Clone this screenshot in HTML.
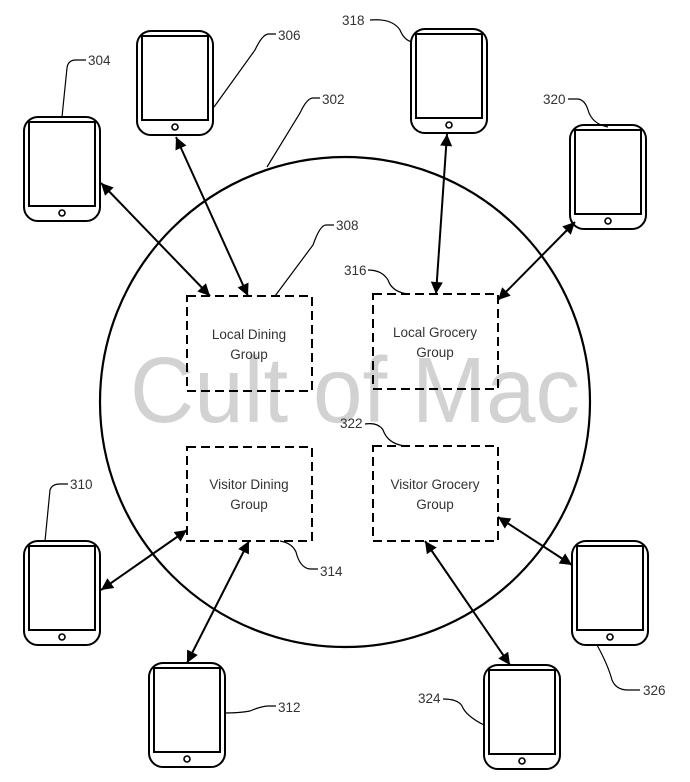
<!DOCTYPE html>
<html><head><meta charset="utf-8"><style>
html,body{margin:0;padding:0;background:#fff;}
svg{display:block;}
text{font-family:"Liberation Sans",sans-serif;}
</style></head><body>
<svg width="690" height="782" viewBox="0 0 690 782" xmlns="http://www.w3.org/2000/svg">
<defs>
<marker id="a" viewBox="0 0 10 10" refX="10" refY="5" markerWidth="7" markerHeight="6" orient="auto-start-reverse" markerUnits="strokeWidth"><path d="M0,0 L10,5 L0,10 z" fill="#000"/></marker>
<g id="dev">
<rect x="0" y="0" width="76" height="104" rx="14" fill="#fff" stroke="#000" stroke-width="2"/>
<rect x="5" y="5" width="66" height="84" fill="none" stroke="#000" stroke-width="2"/>
<circle cx="38" cy="96" r="3" fill="none" stroke="#000" stroke-width="1.6"/>
</g>
</defs>
<text x="130" y="422" font-size="93" fill="#d2d2d2" textLength="450" lengthAdjust="spacingAndGlyphs">Cult of Mac</text>
<circle cx="345" cy="402" r="245" fill="none" stroke="#000" stroke-width="2.2"/>
<g fill="none" stroke="#000" stroke-width="2" stroke-dasharray="9,5">
<rect x="187" y="296" width="125" height="95"/>
<rect x="373" y="294" width="125" height="95"/>
<rect x="187" y="447" width="125" height="94"/>
<rect x="373" y="446" width="125" height="95"/>
</g>
<g font-size="13.5" fill="#333" text-anchor="middle">
<text x="249" y="339">Local Dining</text><text x="249" y="359">Group</text>
<text x="435" y="337">Local Grocery</text><text x="435" y="357">Group</text>
<text x="249" y="489">Visitor Dining</text><text x="249" y="509">Group</text>
<text x="435" y="489">Visitor Grocery</text><text x="435" y="509">Group</text>
</g>
<use href="#dev" x="24" y="117"/>
<use href="#dev" x="137" y="31"/>
<use href="#dev" x="411" y="29"/>
<use href="#dev" x="570" y="125"/>
<use href="#dev" x="24" y="541"/>
<use href="#dev" x="149" y="663"/>
<use href="#dev" x="484" y="665"/>
<use href="#dev" x="572" y="541"/>
<g stroke="#000" stroke-width="2" marker-start="url(#a)" marker-end="url(#a)">
<line x1="101" y1="183" x2="210" y2="296"/>
<line x1="176" y1="137" x2="248" y2="296"/>
<line x1="447" y1="134" x2="436" y2="294"/>
<line x1="575" y1="222" x2="498" y2="300"/>
<line x1="101" y1="590" x2="187" y2="530"/>
<line x1="187" y1="663" x2="249" y2="541"/>
<line x1="510" y1="665" x2="425" y2="541"/>
<line x1="572" y1="565" x2="498" y2="517"/>
</g>
<g fill="none" stroke="#000" stroke-width="1.2">
<path d="M62,117 L67,68 Q68,60 76,60 L86,60"/>
<path d="M214,107 L255,50 Q262,35 268,34 L276,34"/>
<path d="M267,167 L300,113 Q307,98 313,98 L320,98"/>
<path d="M275,296 L313,245 Q320,225 326,225 L334,225"/>
<path d="M368,270 Q382,270 388,280 Q392,292 408,294"/>
<path d="M370,20 Q392,18 400,30 Q404,40 412,42"/>
<path d="M568,99 L578,99 Q585,100 588,110 Q592,124 608,127"/>
<path d="M365,424 Q378,422 383,430 Q388,444 405,446"/>
<path d="M45,541 L50,490 Q52,484 60,484 L68,484"/>
<path d="M280,541 Q292,543 296,552 Q300,568 310,569 L318,569"/>
<path d="M224,713 Q240,713 250,711 Q262,706 268,706 L276,706"/>
<path d="M443,699 Q458,699 462,706 Q466,716 484,725"/>
<path d="M597,645 Q608,665 612,680 Q616,690 628,690 L640,690"/>
</g>
<g font-size="13.5" fill="#333">
<text x="88" y="65">304</text>
<text x="278" y="40">306</text>
<text x="322" y="104">302</text>
<text x="336" y="230">308</text>
<text x="344" y="275">316</text>
<text x="342" y="25">318</text>
<text x="543" y="104">320</text>
<text x="340" y="428">322</text>
<text x="70" y="489">310</text>
<text x="320" y="576">314</text>
<text x="278" y="712">312</text>
<text x="418" y="703">324</text>
<text x="643" y="695">326</text>
</g>
</svg>
</body></html>
